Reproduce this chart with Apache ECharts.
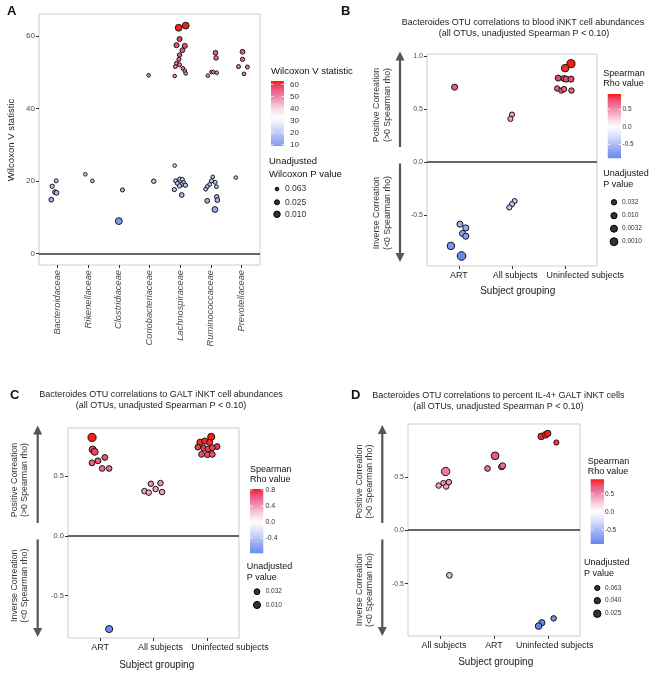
<!DOCTYPE html>
<html><head><meta charset="utf-8">
<script src="https://cdn.jsdelivr.net/npm/echarts@6/dist/echarts.min.js"></script>
<style>html,body{margin:0;padding:0;background:#fff}#c{width:651px;height:675px}</style>
</head><body><div id="c"></div><script>
// ---------------- DATA ----------------
const familyNames = ['Bacteroidaceae','Rikenellaceae','Clostridiaceae','Coriobacteriaceae','Lachnospiraceae','Ruminococcaceae','Prevotellaceae'];
const wilcoxonTicks = [0, 20, 40, 60];
// [family index, jitter, Wilcoxon V, unadjusted p]
const wilcoxonPoints = [
  [0,-0.04,20.0,0.05],[0,-0.17,18.5,0.04],[0,-0.08,16.9,0.03],[0,-0.03,16.7,0.03],[0,-0.20,14.8,0.03],
  [1,-0.09,21.8,0.063],[1,0.14,20.0,0.063],
  [2,0.12,17.5,0.045],[2,0.00,8.9,0.008],
  [3,-0.03,49.1,0.063],[3,0.14,19.9,0.035],
  [4,-0.05,62.2,0.008],[4,0.18,62.8,0.008],[4,-0.02,59.1,0.025],[4,-0.12,57.4,0.025],[4,0.15,57.2,0.025],
  [4,0.07,56.0,0.03],[4,-0.02,54.7,0.04],[4,-0.04,53.5,0.045],[4,-0.12,52.4,0.05],[4,-0.02,52.0,0.05],
  [4,-0.16,51.5,0.055],[4,0.09,51.0,0.055],[4,0.15,50.3,0.06],[4,0.18,49.6,0.063],[4,-0.18,48.9,0.063],
  [4,-0.18,24.2,0.063],[4,-0.15,20.0,0.05],[4,-0.02,20.5,0.05],[4,0.07,20.4,0.05],[4,0.11,19.5,0.045],
  [4,-0.09,19.3,0.045],[4,0.04,19.0,0.045],[4,0.17,18.8,0.04],[4,-0.02,18.6,0.04],[4,-0.19,17.6,0.04],[4,0.05,16.1,0.03],
  [5,0.15,55.3,0.03],[5,0.17,53.9,0.035],[5,0.02,50.0,0.06],[5,0.08,50.0,0.06],[5,0.19,49.8,0.063],[5,-0.10,49.0,0.063],
  [5,0.06,21.1,0.063],[5,0.02,20.0,0.05],[5,0.14,19.6,0.05],[5,-0.04,19.0,0.05],[5,-0.12,18.4,0.05],[5,-0.17,17.7,0.055],
  [5,0.18,18.4,0.055],[5,0.19,15.6,0.035],[5,0.21,14.7,0.03],[5,-0.12,14.5,0.03],[5,0.13,12.1,0.015],
  [6,0.03,55.6,0.03],[6,0.03,53.5,0.04],[6,-0.10,51.5,0.05],[6,0.19,51.4,0.05],[6,0.08,49.5,0.06],[6,-0.19,20.9,0.063]
];
const wilcoxonColorTicks = [10, 20, 30, 40, 50, 60];
const wilcoxonLegendP = ['0.063', '0.025', '0.010'];

const bloodGroups = ['ART', 'All subjects', 'Uninfected subjects'];
// [group index, jitter, Spearman rho, unadjusted p]
const bloodRho = [
  [0,-0.08,0.709,0.012],[0,0.02,-0.589,0.012],[0,0.13,-0.624,0.012],[0,0.07,-0.677,0.01],[0,0.13,-0.703,0.012],
  [0,-0.15,-0.795,0.0015],[0,0.05,-0.89,0.0003],
  [1,0.00,0.449,0.04],[1,-0.03,0.408,0.045],[1,0.05,-0.370,0.05],[1,0.00,-0.399,0.05],[1,-0.05,-0.430,0.04],
  [2,0.11,0.931,0.0006],[2,0.00,0.889,0.0015],[2,-0.13,0.795,0.012],[2,-0.02,0.790,0.012],[2,0.02,0.785,0.012],
  [2,0.11,0.785,0.012],[2,-0.15,0.696,0.03],[2,-0.07,0.677,0.03],[2,-0.02,0.690,0.03],[2,0.12,0.677,0.03]
];
const rhoTicksB = [-0.5, 0, 0.5, 1.0];
const bloodColorTicks = [-0.5, 0, 0.5];
const bloodLegendP = ['0.032', '0.010', '0.0032', '0.0010'];

const galtGroups = ['ART', 'All subjects', 'Uninfected subjects'];
const galtRho = [
  [0,-0.15,0.821,0.004],[0,-0.14,0.721,0.012],[0,-0.10,0.701,0.012],[0,-0.15,0.609,0.03],[0,-0.04,0.626,0.03],
  [0,0.09,0.654,0.03],[0,0.04,0.562,0.035],[0,0.17,0.562,0.035],[0,0.17,-0.779,0.01],
  [1,-0.17,0.373,0.04],[1,-0.09,0.360,0.04],[1,-0.05,0.434,0.04],[1,0.04,0.390,0.04],[1,0.13,0.440,0.04],[1,0.16,0.365,0.04],
  [2,0.08,0.826,0.01],[2,-0.13,0.780,0.02],[2,-0.04,0.790,0.02],[2,0.05,0.780,0.025],[2,0.19,0.745,0.03],[2,-0.17,0.740,0.03],
  [2,-0.06,0.730,0.03],[2,0.02,0.725,0.03],[2,0.10,0.735,0.03],[2,-0.10,0.680,0.03],[2,0.01,0.676,0.035],[2,0.10,0.680,0.03]
];
const rhoTicksC = [-0.5, 0, 0.5];
const galtColorTicks = [-0.4, 0, 0.4, 0.8];
const galtLegendP = ['0.032', '0.010'];

const il4Groups = ['All subjects', 'ART', 'Uninfected subjects'];
const il4Rho = [
  [0,0.10,0.549,0.017],[0,-0.03,0.418,0.055],[0,0.06,0.440,0.055],[0,0.11,0.409,0.055],[0,0.16,0.450,0.055],[0,0.17,-0.422,0.05],
  [1,0.02,0.696,0.022],[1,-0.12,0.578,0.05],[1,0.14,0.593,0.045],[1,0.16,0.603,0.045],
  [2,-0.12,0.878,0.035],[2,-0.04,0.893,0.035],[2,0.00,0.906,0.04],[2,0.16,0.821,0.063],
  [2,0.11,-0.825,0.055],[2,-0.11,-0.866,0.04],[2,-0.17,-0.897,0.035]
];
const rhoTicksD = [-0.5, 0, 0.5];
const il4ColorTicks = [-0.5, 0, 0.5];
const il4LegendP = ['0.063', '0.040', '0.025'];

// ---------------- STYLE / LAYOUT ----------------
const FONT = '"Liberation Sans", Arial, Helvetica, sans-serif';
const rampStops = [[0,'#5F83F0'],[0.2,'#A3B4F4'],[0.35,'#D8DEFA'],[0.5,'#FFFFFF'],[0.65,'#F8C6D8'],[0.8,'#F07CA2'],[0.92,'#EA4C70'],[1,'#FF1A08']];
function hx(h){return [parseInt(h.slice(1,3),16),parseInt(h.slice(3,5),16),parseInt(h.slice(5,7),16)];}
function ramp(t){
  t = Math.max(0, Math.min(1, t));
  for (let i = 1; i < rampStops.length; i++) {
    if (t <= rampStops[i][0]) {
      const a = rampStops[i-1], b = rampStops[i];
      const f = (t - a[0]) / (b[0] - a[0]);
      const ca = hx(a[1]), cb = hx(b[1]);
      return 'rgb(' + ca.map((c,k)=>Math.round(c + (cb[k]-c)*f)).join(',') + ')';
    }
  }
  return rampStops[rampStops.length-1][1];
}
function makeScale(vals, mid){
  const lo = Math.min(...vals), hi = Math.max(...vals);
  const r = Math.max(hi - mid, mid - lo);
  return {lo, hi, color: v => ramp(0.5 + (v - mid) / (2 * r))};
}

// labelShift: horizontal placement offsets of the category labels (layout only, in axis units)
const panels = [
  {pts: wilcoxonPoints, cats: familyNames, yTicks: wilcoxonTicks, yFmt: v => String(v), mid: 33,
   grid: {left:39, top:14, width:221, height:251}, xr:[-0.6,6.6], yr:[-3.2,66], labelShift:[0,0,0,0,0,0,0],
   size: {p0:0.063, d0:3.6, k:3.6}, xLabel: {rotate:90, italic:true, size:9.3, color:'#4d4d4d'}, yLabelSize: 8},
  {pts: bloodRho, cats: bloodGroups, yTicks: rhoTicksB, yFmt: v => v.toFixed(1), mid: 0,
   grid: {left:427, top:54, width:170, height:212}, xr:[-0.6,2.6], yr:[-0.985,1.023], labelShift:[0,0.06,0.38],
   size: {p0:0.032, d0:5.4, k:1.6}, xLabel: {rotate:0, italic:false, size:8.9, color:'#222'}, yLabelSize: 7},
  {pts: galtRho, cats: galtGroups, yTicks: rhoTicksC, yFmt: v => v.toFixed(1), mid: 0,
   grid: {left:68, top:428, width:171, height:210}, xr:[-0.6,2.6], yr:[-0.854,0.9], labelShift:[0,0.13,0.43],
   size: {p0:0.032, d0:5.8, k:2.6}, xLabel: {rotate:0, italic:false, size:8.9, color:'#222'}, yLabelSize: 7.5},
  {pts: il4Rho, cats: il4Groups, yTicks: rhoTicksD, yFmt: v => v.toFixed(1), mid: 0,
   grid: {left:408, top:424, width:172, height:212}, xr:[-0.6,2.6], yr:[-0.99,0.994], labelShift:[0.07,0,0.13],
   size: {p0:0.063, d0:5.2, k:5.6}, xLabel: {rotate:0, italic:false, size:8.9, color:'#222'}, yLabelSize: 7}
];
panels.forEach(p => {
  p.scale = makeScale(p.pts.map(d => d[2]), p.mid);
  p.sizeFn = pv => p.size.d0 + Math.log10(p.size.p0 / pv) * p.size.k;
});

const grids = [], xAxes = [], yAxes = [], series = [];
panels.forEach((p, i) => {
  grids.push(Object.assign({show:true, borderColor:'#cdcdcd', borderWidth:1, backgroundColor:'#fff'}, p.grid));
  const catIdx = p.cats.map((c, k) => k);
  const labelPos = catIdx.map(k => k + p.labelShift[k]);
  xAxes.push({type:'value', gridIndex:i, min:p.xr[0], max:p.xr[1], position:'bottom',
    axisLine:{show:false, onZero:false}, splitLine:{show:false},
    axisTick:{show:true, length:3, customValues:catIdx, lineStyle:{color:'#333'}},
    axisLabel:{customValues:labelPos, formatter: v => p.cats[Math.round(v)], rotate:p.xLabel.rotate,
      showMinLabel:true, showMaxLabel:true, hideOverlap:false,
      fontStyle: p.xLabel.italic ? 'italic' : 'normal', fontSize:p.xLabel.size, color:p.xLabel.color,
      fontFamily:FONT, margin:5}});
  yAxes.push({type:'value', gridIndex:i, min:p.yr[0], max:p.yr[1], position:'left',
    axisLine:{show:false, onZero:false}, splitLine:{show:false},
    axisTick:{show:true, length:3, customValues:p.yTicks, lineStyle:{color:'#333'}},
    axisLabel:{customValues:p.yTicks, formatter:p.yFmt, fontSize:p.yLabelSize, color:'#4d4d4d', fontFamily:FONT, margin:4,
      showMinLabel:true, showMaxLabel:true}});
  series.push({type:'scatter', xAxisIndex:i, yAxisIndex:i,
    data: p.pts.map(d => [d[0] + d[1], d[2], d[3]]),
    symbolSize: v => p.sizeFn(v[2]),
    itemStyle:{color: prm => p.scale.color(prm.value[1]), borderColor:'#151515', borderWidth:1, opacity:1},
    markLine:{silent:true, symbol:['none','none'], label:{show:false}, animation:false,
      lineStyle:{color:'#666', width:1.8, type:'solid'}, data:[{yAxis:0}]},
    z:3});
});

// ---------------- GRAPHIC (labels, legends, arrows) ----------------
const G = [];
function txt(s, x, y, size, o) {
  o = o || {};
  G.push({type:'text', x, y, rotation:o.rot || 0, silent:true, z:10,
    style:{text:s, fill:o.color || '#111', font:(o.bold ? 'bold ' : '') + size + 'px ' + FONT,
      align:o.align || 'left', verticalAlign:'middle', textAlign:o.align || 'left', textVerticalAlign:'middle'}});
}
function arrow(x, y0, tip) {
  const dir = tip < y0 ? 1 : -1;
  G.push({type:'line', silent:true, shape:{x1:x, y1:y0, x2:x, y2:tip + dir*6}, style:{stroke:'#555', lineWidth:2.2}});
  G.push({type:'polygon', silent:true, shape:{points:[[x-4.5, tip + dir*9],[x+4.5, tip + dir*9],[x, tip]]}, style:{fill:'#555'}});
}
function colorbar(p, x, y, w, h, ticks, fmt, lx, fs) {
  const stops = [];
  for (let k = 0; k <= 24; k++) {
    const v = p.scale.hi - (p.scale.hi - p.scale.lo) * k / 24;
    stops.push({offset:k/24, color:p.scale.color(v)});
  }
  G.push({type:'rect', silent:true, shape:{x, y, width:w, height:h},
    style:{fill:{type:'linear', x:0, y:0, x2:0, y2:1, colorStops:stops}}});
  ticks.forEach(v => {
    const yy = y + (p.scale.hi - v) / (p.scale.hi - p.scale.lo) * h;
    G.push({type:'line', silent:true, shape:{x1:x, y1:yy, x2:x+2.5, y2:yy}, style:{stroke:'#fff', lineWidth:0.8}});
    G.push({type:'line', silent:true, shape:{x1:x+w-2.5, y1:yy, x2:x+w, y2:yy}, style:{stroke:'#fff', lineWidth:0.8}});
    txt(fmt(v), lx, yy, fs, {color:'#333'});
  });
}
function sizeLegend(p, labels, x, ys, lx, fs) {
  labels.forEach((s, k) => {
    const d = p.sizeFn(parseFloat(s));
    G.push({type:'circle', silent:true, shape:{cx:x, cy:ys[k], r:d/2}, style:{fill:'#333', stroke:'#000', lineWidth:1}});
    txt(s, lx, ys[k], fs, {color:'#333'});
  });
}
const TS = 9; // panel title font size

// Panel A
txt('A', 7, 11, 13, {bold:true});
txt('Wilcoxon V statistic', 11, 140, 9.6, {rot:Math.PI/2, align:'center', color:'#222'});
txt('Wilcoxon V statistic', 271, 71, 9.5);
colorbar(panels[0], 271, 81, 13, 65, wilcoxonColorTicks, v => String(v), 290, 8);
txt('Unadjusted', 269, 161.7, 9.5);
txt('Wilcoxon P value', 269, 174, 9.5);
sizeLegend(panels[0], wilcoxonLegendP, 277, [189, 202.3, 214.3], 285, 8.5);

// Panel B
txt('B', 341, 11, 13, {bold:true});
txt('Bacteroides OTU correlations to blood iNKT cell abundances', 523, 22.7, TS, {align:'center', color:'#222'});
txt('(all OTUs, unadjusted Spearman P < 0.10)', 524, 33.3, TS, {align:'center', color:'#222'});
arrow(400, 147, 51.5); arrow(400, 163.5, 262);
txt('Positive Correation', 376.7, 105, 8.8, {rot:Math.PI/2, align:'center', color:'#333'});
txt('(>0 Spearman rho)', 387.3, 105, 8.8, {rot:Math.PI/2, align:'center', color:'#333'});
txt('Inverse Correation', 376.7, 213, 8.8, {rot:Math.PI/2, align:'center', color:'#333'});
txt('(<0 Spearman rho)', 387.3, 213, 8.8, {rot:Math.PI/2, align:'center', color:'#333'});
txt('Subject grouping', 517.7, 291, 10, {align:'center', color:'#222'});
txt('Spearman', 603.3, 73.3, 9);
txt('Rho value', 603.3, 84, 9);
colorbar(panels[1], 607.7, 94, 13.3, 64.3, bloodColorTicks, v => v.toFixed(1), 622.5, 6.5);
txt('Unadjusted', 603.3, 174, 9);
txt('P value', 603.3, 184.3, 9);
sizeLegend(panels[1], bloodLegendP, 614, [202.3, 215.7, 228.7, 241.7], 622, 6.5);

// Panel C
txt('C', 10, 395, 13, {bold:true});
txt('Bacteroides OTU correlations to GALT iNKT cell abundances', 161, 394.3, TS, {align:'center', color:'#222'});
txt('(all OTUs, unadjusted Spearman P < 0.10)', 161, 405.7, TS, {align:'center', color:'#222'});
arrow(37.7, 523, 425.5); arrow(37.7, 539.5, 637);
txt('Positive Correation', 15, 480, 8.8, {rot:Math.PI/2, align:'center', color:'#333'});
txt('(>0 Spearman rho)', 25, 480, 8.8, {rot:Math.PI/2, align:'center', color:'#333'});
txt('Inverse Correation', 15, 585.7, 8.8, {rot:Math.PI/2, align:'center', color:'#333'});
txt('(<0 Spearman rho)', 25, 585.7, 8.8, {rot:Math.PI/2, align:'center', color:'#333'});
txt('Subject grouping', 156.7, 665.7, 10, {align:'center', color:'#222'});
txt('Spearman', 250, 469.3, 9);
txt('Rho value', 250, 479.3, 9);
colorbar(panels[2], 250, 489, 13.3, 64.3, galtColorTicks, v => v.toFixed(1), 265.5, 7);
txt('Unadjusted', 246.7, 566.7, 9);
txt('P value', 246.7, 577.3, 9);
sizeLegend(panels[2], galtLegendP, 257, [591.7, 605], 265.7, 6.5);

// Panel D
txt('D', 351, 395, 13, {bold:true});
txt('Bacteroides OTU correlations to percent IL-4+ GALT iNKT cells', 498.3, 396, TS, {align:'center', color:'#222'});
txt('(all OTUs, unadjusted Spearman P < 0.10)', 498.3, 406.7, TS, {align:'center', color:'#222'});
arrow(382.3, 523, 425); arrow(382.3, 539.5, 636);
txt('Positive Correation', 360, 481.7, 8.8, {rot:Math.PI/2, align:'center', color:'#333'});
txt('(>0 Spearman rho)', 370, 481.7, 8.8, {rot:Math.PI/2, align:'center', color:'#333'});
txt('Inverse Correation', 360, 590, 8.8, {rot:Math.PI/2, align:'center', color:'#333'});
txt('(<0 Spearman rho)', 370, 590, 8.8, {rot:Math.PI/2, align:'center', color:'#333'});
txt('Subject grouping', 495.7, 662.7, 10, {align:'center', color:'#222'});
txt('Spearman', 587.7, 461.7, 9);
txt('Rho value', 587.7, 471.7, 9);
colorbar(panels[3], 590.7, 479.3, 13.3, 64.7, il4ColorTicks, v => v.toFixed(1), 605, 6.5);
txt('Unadjusted', 584, 562.3, 9);
txt('P value', 584, 573.3, 9);
sizeLegend(panels[3], il4LegendP, 597.3, [588, 600.7, 613.7], 605, 6.5);

const chart = echarts.init(document.getElementById('c'), null, {renderer:'canvas'});
chart.setOption({
  animation:false, backgroundColor:'#fff',
  textStyle:{fontFamily:FONT},
  grid:grids, xAxis:xAxes, yAxis:yAxes, series:series, graphic:G
});
</script></body></html>
